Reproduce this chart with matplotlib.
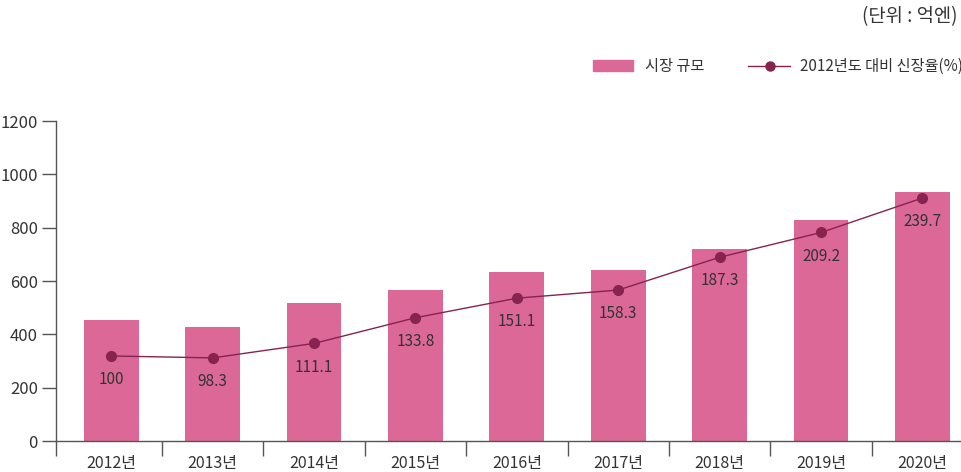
import matplotlib.pyplot as plt

plt.rcParams['font.family'] = ['Noto Sans CJK KR', 'DejaVu Sans']

anos = ['2012년', '2013년', '2014년', '2015년', '2016년', '2017년', '2018년', '2019년', '2020년']
mercado = [454, 428, 519, 566, 634, 641, 720, 829, 934]
crescimento = [100, 98.3, 111.1, 133.8, 151.1, 158.3, 187.3, 209.2, 239.7]
rotulos = ['100', '98.3', '111.1', '133.8', '151.1', '158.3', '187.3', '209.2', '239.7']

cor_barra = '#DB6896'
cor_linha = '#862350'
cor_texto = '#333333'
cor_eixo = '#555555'

fig = plt.figure(figsize=(9.62, 4.72), dpi=100)
ax = fig.add_axes([56 / 962, 31 / 472, 906 / 962, 320 / 472])

x = list(range(len(anos)))
ax.bar(x, mercado, width=0.54, color=cor_barra, zorder=2)
ax.set_xlim(-0.545, 8.39)
ax.set_ylim(0, 1200)
ax.set_yticks(range(0, 1201, 200))
ax.tick_params(axis='y', length=10, width=1, color=cor_eixo, labelsize=12,
               labelcolor=cor_texto, pad=3)

# marcas entre as categorias, rótulos no centro
limites = [-0.545] + [i + 0.5 for i in range(len(anos) - 1)]
ax.set_xticks(limites)
ax.set_xticklabels([])
ax.tick_params(axis='x', which='major', length=11, width=1, color=cor_eixo)
ax.set_xticks(x, minor=True)
ax.set_xticklabels(anos, minor=True)
ax.tick_params(axis='x', which='minor', length=0, labelsize=11.5,
               labelcolor=cor_texto, pad=10)

for lado in ['top', 'right']:
    ax.spines[lado].set_visible(False)
for lado in ['left', 'bottom']:
    ax.spines[lado].set_color(cor_eixo)
    ax.spines[lado].set_linewidth(1)

# eixo secundário escondido para a linha
ax2 = ax.twinx()
ax2.set_ylim(24.8, 307.8)
ax2.axis('off')
ax2.plot(x, crescimento, color=cor_linha, linewidth=1, marker='o', markersize=7, zorder=3)
for xi, yi, r in zip(x, crescimento, rotulos):
    ax2.annotate(r, (xi, yi), xytext=(0, -17), textcoords='offset points',
                 ha='center', va='center', fontsize=11, color=cor_texto)

# legenda
fig.patches.append(plt.Rectangle((593 / 962, 1 - 71 / 472), 40 / 962, 11 / 472,
                                 transform=fig.transFigure, color=cor_barra))
fig.text(645 / 962, 1 - 66 / 472, '시장 규모', fontsize=11, color=cor_texto, va='center')
fig.add_artist(plt.Line2D([748 / 962, 790 / 962], [1 - 66 / 472, 1 - 66 / 472],
                          color=cor_linha, linewidth=1))
fig.add_artist(plt.Line2D([770 / 962], [1 - 66 / 472], color=cor_linha,
                          marker='o', markersize=6.5))
fig.text(800 / 962, 1 - 66 / 472, '2012년도 대비 신장율(%)', fontsize=11, color=cor_texto, va='center')
fig.text(958 / 962, 1 - 17 / 472, '(단위 : 억엔)', fontsize=13.5, color=cor_texto, va='center', ha='right')

fig.savefig('out.png', dpi=100)
